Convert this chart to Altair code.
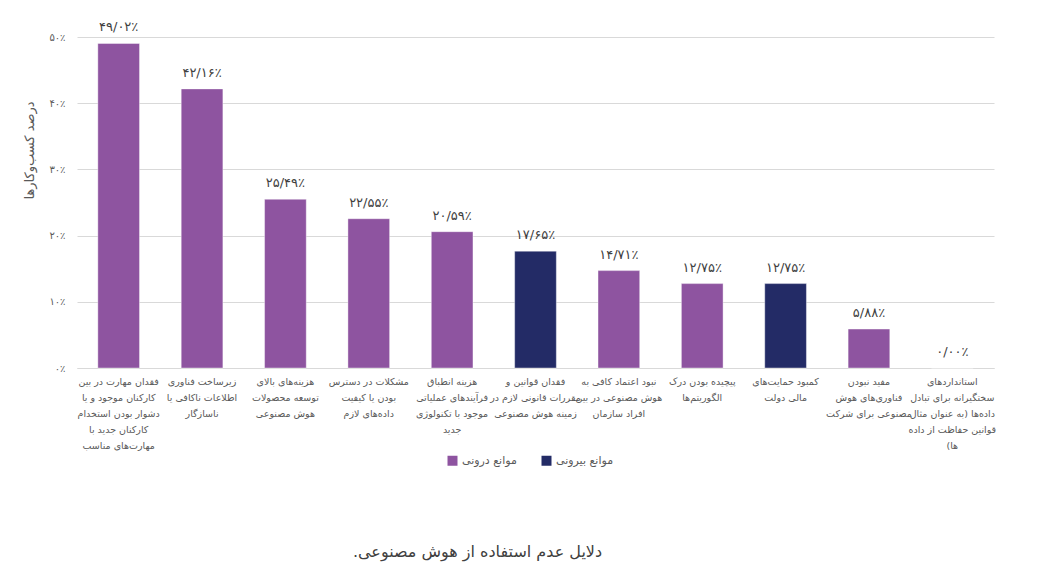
import altair as alt
import pandas as pd
import json

# ---- data ----
categories = [
    "فقدان مهارت در بین|کارکنان موجود و یا|دشوار بودن استخدام|کارکنان جدید با|مهارت‌های مناسب",
    "زیرساخت فناوری|اطلاعات ناکافی یا|ناسازگار",
    "هزینه‌های بالای|توسعه محصولات|هوش مصنوعی",
    "مشکلات در دسترس|بودن یا کیفیت|داده‌های لازم",
    "هزینه انطباق|فرآیندهای عملیاتی|موجود با تکنولوژی|جدید",
    "فقدان قوانین و|مقررات قانونی لازم در|زمینه هوش مصنوعی",
    "نبود اعتماد کافی به|هوش مصنوعی در بین|افراد سازمان",
    "پیچیده بودن درک|الگوریتم‌ها",
    "کمبود حمایت‌های|مالی دولت",
    "مفید نبودن|فناوری‌های هوش|مصنوعی برای شرکت",
    "استانداردهای|سختگیرانه برای تبادل|داده‌ها (به عنوان مثال|قوانین حفاظت از داده|ها)\u200f",
]
values = [49.02, 42.16, 25.49, 22.55, 20.59, 17.65, 14.71, 12.75, 12.75, 5.88, 0.00]
INTERNAL = "موانع درونی"
EXTERNAL = "موانع بیرونی"
groups = [INTERNAL, INTERNAL, INTERNAL, INTERNAL, INTERNAL, EXTERNAL,
          INTERNAL, INTERNAL, EXTERNAL, INTERNAL, INTERNAL]
group_order = [INTERNAL, EXTERNAL]
group_colors = ["#8E54A0", "#232B66"]
y_ticks = [0, 10, 20, 30, 40, 50]
y_title = "درصد کسب‌وکارها"
caption = "دلایل عدم استفاده از هوش مصنوعی.\u200f"

FA = str.maketrans("0123456789", "۰۱۲۳۴۵۶۷۸۹")


def fa_pct(v, decimals):
    s = f"{v:.{decimals}f}".replace(".", "/")
    return s.translate(FA) + "٪"


df = pd.DataFrame({
    "cat": categories,
    "value": values,
    "group": groups,
    "label": [fa_pct(v, 2) for v in values],
})

y_label_map = {str(t): fa_pct(t, 0) for t in y_ticks}
y_label_expr = json.dumps(y_label_map, ensure_ascii=False) + "[toString(datum.value)]"

FONT = "DejaVu Sans"
GRAY = "#595959"

x_enc = alt.X(
    "cat:N",
    sort=categories,
    scale=alt.Scale(paddingInner=0.5, paddingOuter=0.25),
    axis=alt.Axis(
        title=None,
        labelExpr="split(datum.label, '|')",
        labelAngle=0,
        labelAlign="center",
        labelBaseline="top",
        labelPadding=8,
        labelFontSize=9.5,
        labelLineHeight=16,
        labelColor=GRAY,
        labelLimit=200,
        ticks=False,
        domain=True,
        domainColor="#d9d9d9",
        labelFont=FONT,
    ),
)
y_enc = alt.Y(
    "value:Q",
    scale=alt.Scale(domain=[0, 50], nice=False),
    axis=alt.Axis(
        title=y_title,
        values=y_ticks,
        labelExpr=y_label_expr,
        labelColor=GRAY,
        labelFontSize=10,
        labelPadding=12,
        labelFont=FONT,
        ticks=False,
        domain=False,
        grid=True,
        gridColor="#d9d9d9",
        titleFont=FONT,
        titleFontSize=13,
        titleFontWeight="normal",
        titleColor=GRAY,
        titleX=-41,
        titleY=113,
    ),
)

bars = alt.Chart(df).mark_bar(stroke="#ffffff", strokeOpacity=0.5, strokeWidth=0.8).encode(
    x=x_enc,
    y=y_enc,
    color=alt.Color(
        "group:N",
        scale=alt.Scale(domain=group_order, range=group_colors),
        legend=alt.Legend(
            title=None,
            orient="none",
            legendX=370,
            legendY=418,
            direction="horizontal",
            symbolType="square",
            symbolSize=100,
            symbolStrokeWidth=0,
            labelFontSize=11,
            labelColor=GRAY,
            labelFont=FONT,
            columnPadding=24,
        ),
    ),
)

labels = alt.Chart(df).mark_text(
    dy=-9, fontSize=13, color="#404040", font=FONT, baseline="bottom"
).encode(
    x=alt.X("cat:N", sort=categories),
    y=alt.Y("value:Q"),
    text="label:N",
)

chart = (
    alt.layer(bars, labels)
    .properties(
        width=917,
        height=331,
        autosize=alt.AutoSizeParams(type="none"),
        padding={"left": 69, "top": 29, "right": 41, "bottom": 209},
        title=alt.TitleParams(
            text=caption,
            orient="bottom",
            anchor="middle",
            dx=-58,
            offset=78,
            fontSize=16,
            fontWeight="normal",
            color="#404040",
            font=FONT,
        ),
    )
    .configure(font=FONT)
    .configure_view(strokeWidth=0, stroke="transparent")
)

chart.save("out.html", embed_options={"renderer": "svg", "actions": False})
